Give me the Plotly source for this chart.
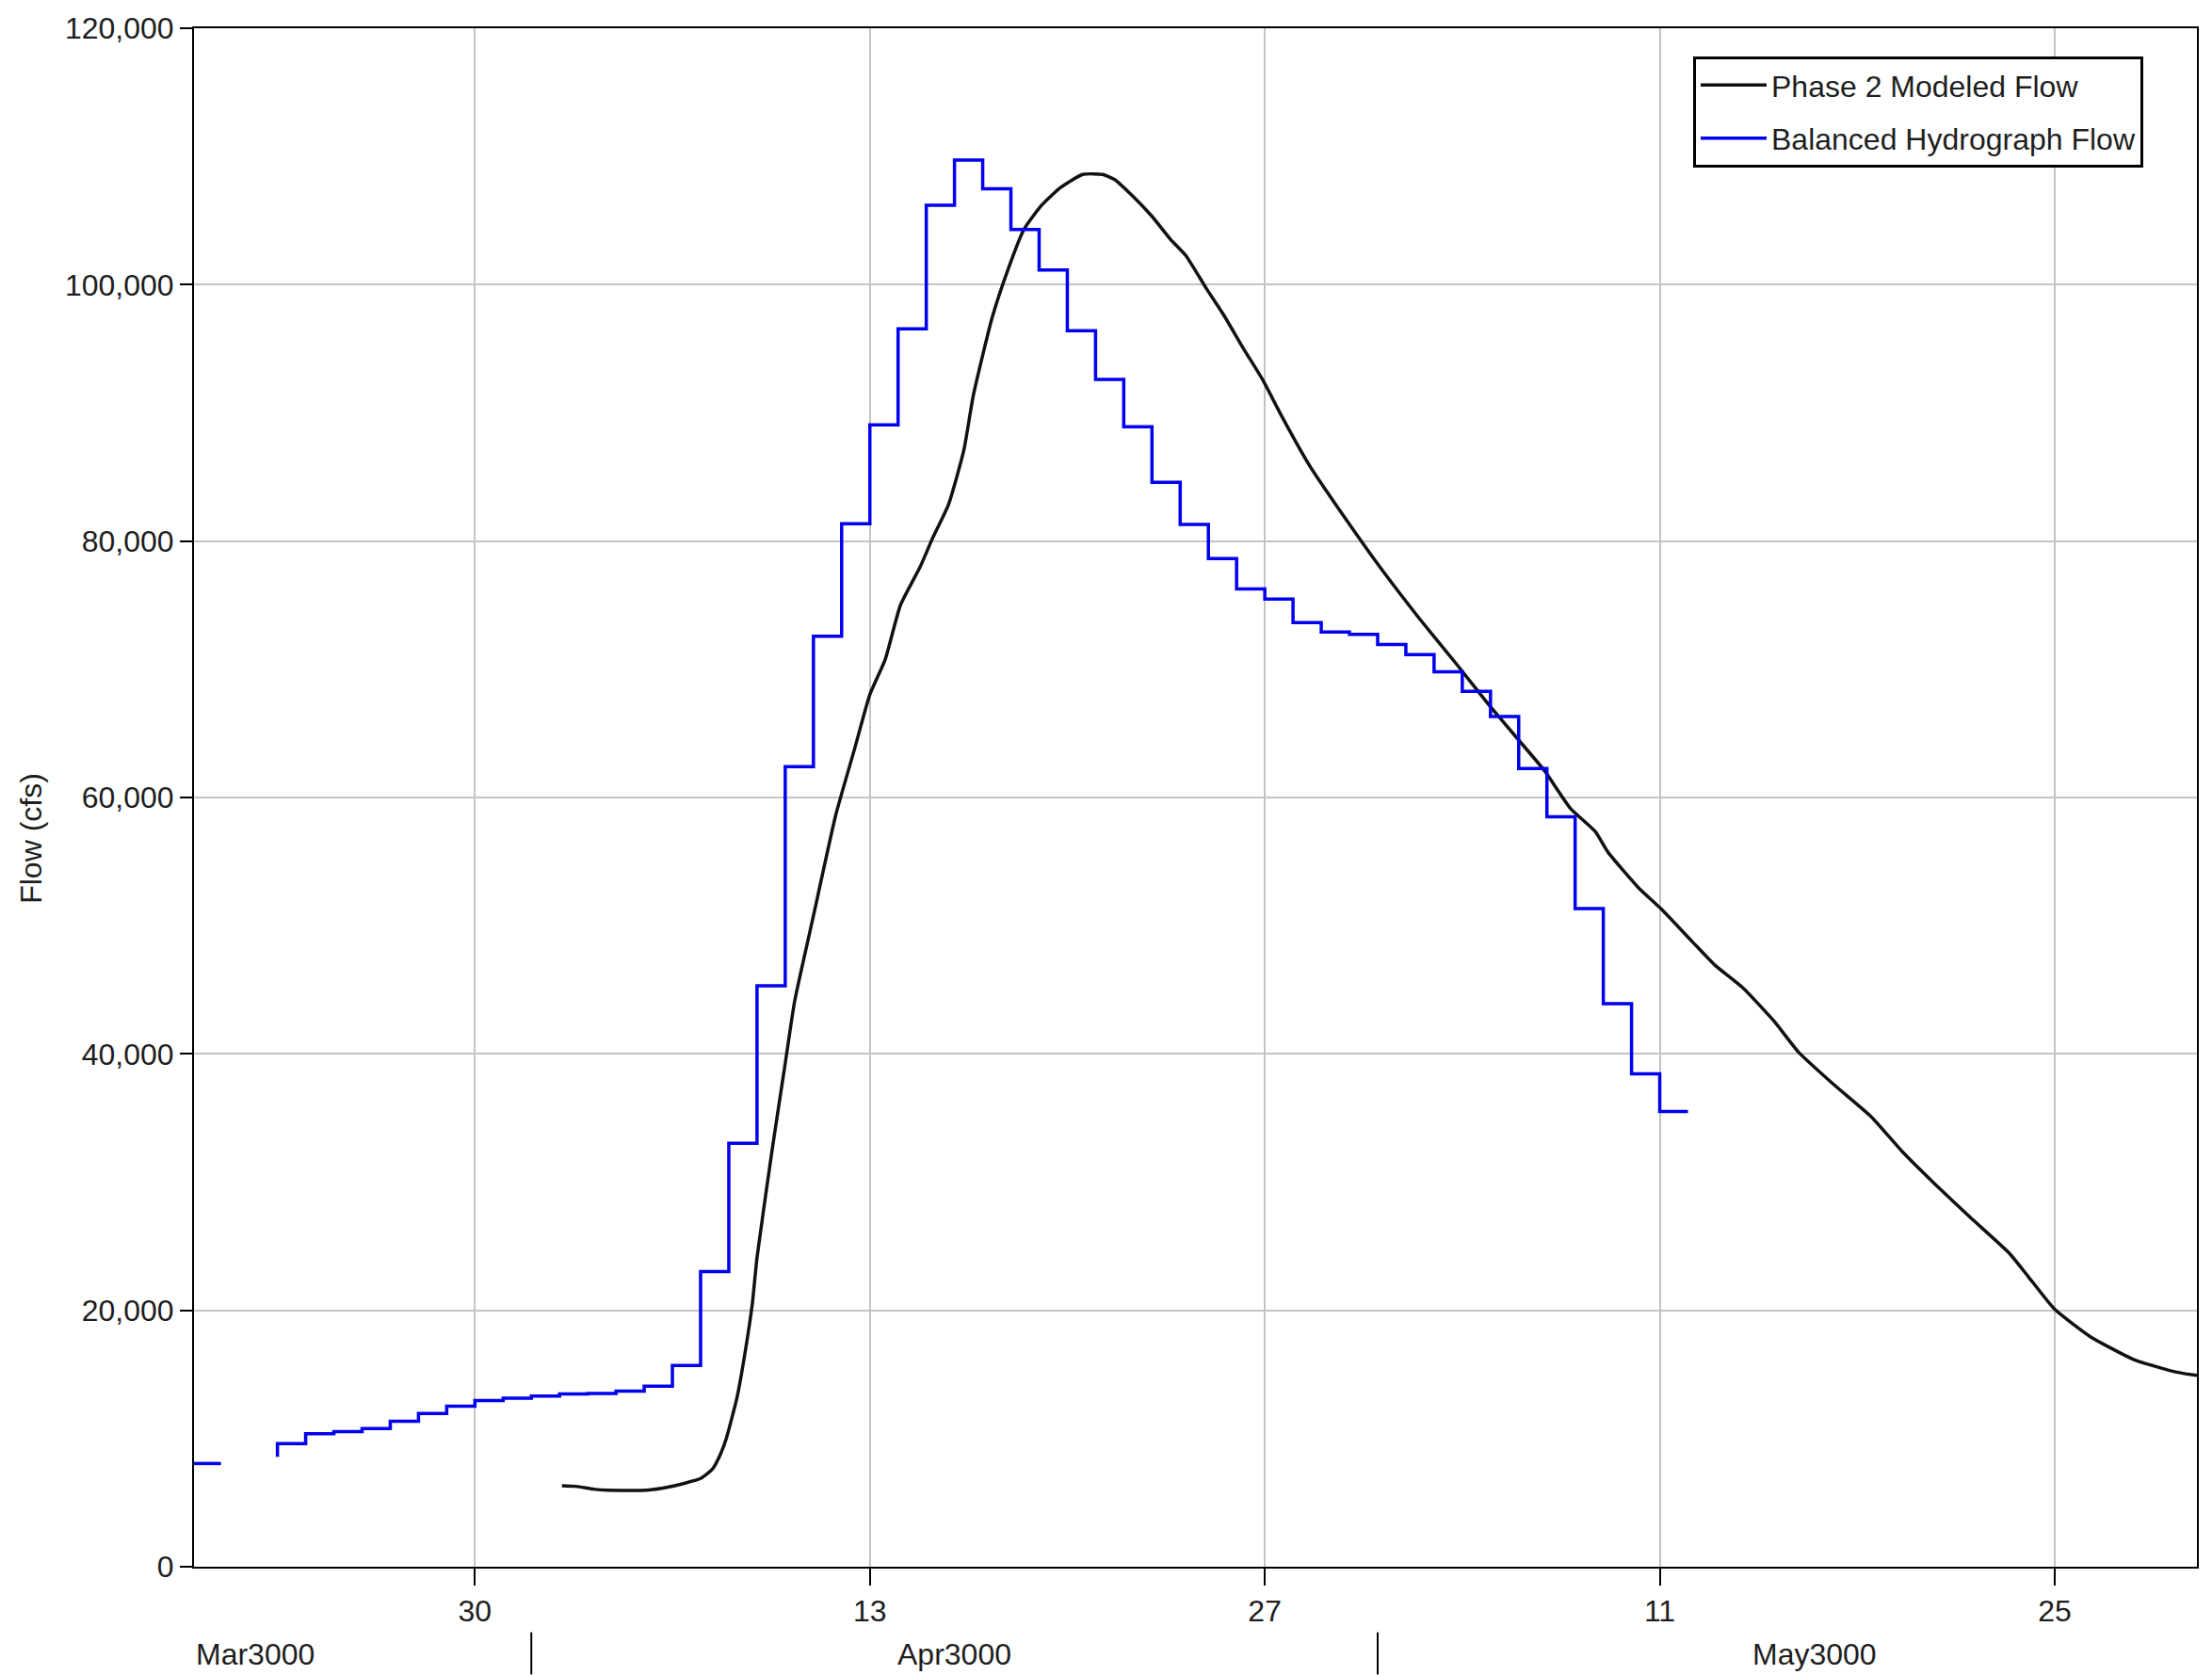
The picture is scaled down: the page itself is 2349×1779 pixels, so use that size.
import plotly.graph_objects as go
from datetime import datetime, timedelta

# ---------------- data ----------------
# Balanced Hydrograph Flow: daily end-of-period values (cfs), starting 3000-03-20
balanced_start = "3000-03-20"
balanced_flow = [
    8050, 8050, None, 8580, 9610, 10370, 10530, 10780, 11340, 11950,   # Mar 20 - Mar 29
    12530, 12970,                                                       # Mar 30 - Mar 31
    13140, 13310, 13480, 13520, 13700, 14090, 15700, 23030, 33030, 45320,  # Apr 1 - Apr 10
    62400, 72580, 81360, 89060, 96560, 106190, 109710, 107480, 104310, 101150,  # Apr 11 - Apr 20
    96400, 92610, 88920, 84590, 81290, 78630, 76260, 75470, 73650, 72900,   # Apr 21 - Apr 30
    72720, 71930, 71150, 69800, 68280, 66320, 62250, 58500, 51330, 43920,   # May 1 - May 10
    38440, 35510,                                                            # May 11 - May 12
]

# Phase 2 Modeled Flow (cfs)
modeled_time = [
    "3000-04-02 02:00", "3000-04-02 14:00", "3000-04-03 05:00", "3000-04-03 17:00",
    "3000-04-04 12:00", "3000-04-05 02:00", "3000-04-05 20:00", "3000-04-06 10:00",
    "3000-04-07 00:00", "3000-04-07 10:00", "3000-04-07 17:00", "3000-04-07 22:00",
    "3000-04-08 07:00", "3000-04-08 14:00", "3000-04-08 20:00", "3000-04-09 00:00",
    "3000-04-09 13:00", "3000-04-10 00:00", "3000-04-10 08:00", "3000-04-11 00:00",
    "3000-04-11 19:00", "3000-04-12 11:00", "3000-04-13 00:00", "3000-04-13 13:00",
    "3000-04-14 02:00", "3000-04-14 19:00", "3000-04-15 05:00", "3000-04-15 19:00",
    "3000-04-16 08:00", "3000-04-16 16:00", "3000-04-17 08:00", "3000-04-17 22:00",
    "3000-04-18 11:00", "3000-04-19 02:00", "3000-04-19 18:00", "3000-04-20 13:00",
    "3000-04-21 06:00", "3000-04-21 16:00", "3000-04-22 08:00", "3000-04-23 00:00",
    "3000-04-23 16:00", "3000-04-24 05:00", "3000-04-24 22:00", "3000-04-25 13:00",
    "3000-04-26 06:00", "3000-04-26 22:00", "3000-04-27 14:00", "3000-04-28 14:00",
    "3000-04-29 22:00", "3000-05-01 03:00", "3000-05-02 12:00", "3000-05-03 20:00",
    "3000-05-04 22:00", "3000-05-06 01:00", "3000-05-06 22:00", "3000-05-07 20:00",
    "3000-05-08 17:00", "3000-05-09 04:00", "3000-05-10 06:00", "3000-05-11 01:00",
    "3000-05-12 04:00", "3000-05-12 23:00", "3000-05-13 23:00", "3000-05-15 01:00",
    "3000-05-15 22:00", "3000-05-17 03:00", "3000-05-18 12:00", "3000-05-19 15:00",
    "3000-05-20 18:00", "3000-05-22 00:00", "3000-05-23 09:00", "3000-05-24 01:00",
    "3000-05-25 00:00", "3000-05-26 06:00", "3000-05-27 19:00", "3000-05-29 07:00",
    "3000-05-30 01:00", "3000-05-30 07:00",
]
modeled_flow = [
    6320, 6270, 6050, 5960,
    5950, 5960, 6200, 6500,
    6880, 7610, 8800, 10050,
    13210, 16800, 20500, 24120,
    32600, 39260, 44100, 50770,
    58640, 63790, 68030, 70750,
    75000, 78030, 80150, 82870,
    87110, 91350, 97410, 101300,
    104300, 106180, 107560, 108600,
    108600, 108210, 106870, 105330,
    103510, 102250, 99740, 97640,
    94990, 92610, 89810, 85900,
    81570, 77840, 73900, 70300,
    67300, 64370, 62080, 59150,
    57360, 55730, 52950, 51330,
    48720, 46920, 45130, 42580,
    40140, 37690, 35090, 32310,
    29860, 27260, 24490, 22690,
    20080, 17960, 16170, 15190,
    14930, 14900,
]

x_range = ["3000-03-20 01:00", "3000-05-30 01:00"]
x_tick_dates = ["3000-03-30", "3000-04-13", "3000-04-27", "3000-05-11", "3000-05-25"]
x_tick_text = ["30", "13", "27", "11", "25"]
y_ticks = [0, 20000, 40000, 60000, 80000, 100000, 120000]

month_labels = ["Mar3000", "Apr3000", "May3000"]
month_centers = [None, "3000-04-16 00:00", "3000-05-16 12:00"]
month_bounds = ["3000-04-01", "3000-05-01"]

series_names = ["Phase 2 Modeled Flow", "Balanced Hydrograph Flow"]
y_title = "Flow (cfs)"

# ---------------- figure ----------------
start = datetime.strptime(balanced_start, "%Y-%m-%d")
balanced_dates = [(start + timedelta(days=i)).strftime("%Y-%m-%d") for i in range(len(balanced_flow))]

FONT = "Arial, Liberation Sans, sans-serif"
FS = 32
TXT = "#1e1e1e"

fig = go.Figure()
fig.add_trace(go.Scatter(
    x=modeled_time, y=modeled_flow, name=series_names[0], mode="lines",
    legendgroup="g1",
    line=dict(color="#111111", width=3.5, shape="spline", smoothing=0.5),
))
fig.add_trace(go.Scatter(
    x=balanced_dates, y=balanced_flow, name=series_names[1], mode="lines",
    legendgroup="g2",
    line=dict(color="#0000ee", width=3.5, shape="vh"), connectgaps=False,
))

W, H = 2349, 1779
ml, mr, mt, mb = 206, 16, 22, 115
pw, ph = W - ml - mr, H - mt - mb

def py(pix_y):
    return 1 - (pix_y - mt) / ph

def px(pix_x):
    return (pix_x - ml) / pw

fig.update_layout(
    width=W, height=H,
    margin=dict(l=ml, r=mr, t=mt, b=mb),
    paper_bgcolor="white", plot_bgcolor="white",
    font=dict(family=FONT, size=FS, color=TXT),
    showlegend=True,
    legend=dict(
        x=px(1798), y=py(52), xanchor="left", yanchor="top",
        bordercolor="black", borderwidth=3, bgcolor="white",
        font=dict(family=FONT, size=FS, color=TXT),
        itemwidth=70, traceorder="grouped", tracegroupgap=12,
    ),
    xaxis=dict(
        type="date", range=x_range,
        tickmode="array", tickvals=x_tick_dates, ticktext=x_tick_text,
        ticks="outside", ticklen=18, tickwidth=2, tickcolor="black",
        showline=True, linecolor="black", linewidth=2, mirror=True,
        showgrid=True, gridcolor="#c4c4c4", gridwidth=1.5, zeroline=False,
        tickfont=dict(family=FONT, size=FS, color=TXT),
    ),
    yaxis=dict(
        range=[0, 120000], tickmode="array", tickvals=y_ticks, tickformat=",d",
        ticks="outside", ticklen=13, tickwidth=2, tickcolor="black",
        showline=True, linecolor="black", linewidth=2, mirror=True,
        showgrid=True, gridcolor="#c4c4c4", gridwidth=1.5, zeroline=False,
        tickfont=dict(family=FONT, size=FS, color=TXT),
    ),
)

# y-axis title
fig.add_annotation(
    text=y_title, textangle=-90, xref="paper", yref="paper",
    x=px(33), y=py(887), xanchor="center", yanchor="middle", showarrow=False,
    font=dict(family=FONT, size=FS, color=TXT),
)

# month row labels
fig.add_annotation(
    text=month_labels[0], xref="paper", yref="paper", x=0, y=py(1757),
    xanchor="left", yanchor="middle", showarrow=False,
    font=dict(family=FONT, size=FS, color=TXT),
)
for lab, c in zip(month_labels[1:], month_centers[1:]):
    fig.add_annotation(
        text=lab, xref="x", yref="paper", x=c, y=py(1757),
        xanchor="center", yanchor="middle", showarrow=False,
        font=dict(family=FONT, size=FS, color=TXT),
    )
for b in month_bounds:
    fig.add_shape(
        type="line", xref="x", yref="paper", x0=b, x1=b, y0=py(1734), y1=py(1779),
        line=dict(color="black", width=2),
    )

fig.write_html("out.html")
